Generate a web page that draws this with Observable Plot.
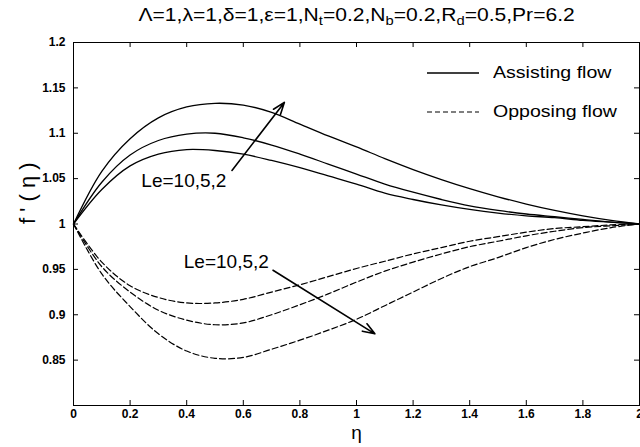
<!DOCTYPE html>
<html>
<head>
<meta charset="utf-8">
<script src="https://cdn.jsdelivr.net/npm/d3@7"></script>
<script src="https://cdn.jsdelivr.net/npm/@observablehq/plot@0.6"></script>
<style>
  html, body { margin: 0; padding: 0; background: white; }
  #wrap { position: relative; width: 640px; height: 447px; font-family: "Liberation Sans", Arial, Helvetica, sans-serif; overflow: hidden; }
  #title { position: absolute; left: 73px; width: 567px; top: 5px; text-align: center; font-size: 18px; color: #000; white-space: nowrap; transform: scaleX(1.17); transform-origin: 283px 0; }
  #title sub { font-size: 70%; vertical-align: -0.35em; line-height: 0; }
  #legend { position: absolute; left: 427px; top: 60px; font-size: 17px; color: #000; }
  .lg { display: flex; align-items: center; height: 26px; margin-bottom: 13px; }
  .lg svg { margin-right: 14px; }
  .lg span { display: inline-block; transform: scaleX(1.15); transform-origin: 0 50%; }
</style>
</head>
<body>
<div id="wrap">
  <div id="title">Λ=1,λ=1,δ=1,ε=1,N<sub>t</sub>=0.2,N<sub>b</sub>=0.2,R<sub>d</sub>=0.5,Pr=6.2</div>
  <div id="chart"></div>
  <div id="legend">
    <div class="lg"><svg width="52" height="4"><line x1="0" y1="2" x2="52" y2="2" stroke="black" stroke-width="1.4"/></svg><span>Assisting flow</span></div>
    <div class="lg"><svg width="52" height="4"><line x1="0" y1="2" x2="52" y2="2" stroke="black" stroke-width="1.1" stroke-dasharray="5,3"/></svg><span>Opposing flow</span></div>
  </div>
</div>
<script>
// η grid
const eta = [0,0.1,0.2,0.3,0.4,0.5,0.6,0.7,0.8,0.9,1.0,1.1,1.2,1.3,1.4,1.5,1.6,1.7,1.8,1.9,2.0];
// Assisting flow (solid)
const assistLe10 = [1,1.058,1.094,1.117,1.129,1.133,1.131,1.123,1.110,1.097,1.085,1.072,1.060,1.049,1.039,1.030,1.022,1.015,1.009,1.004,1.0];
const assistLe5  = [1,1.046,1.076,1.092,1.099,1.100,1.095,1.087,1.077,1.066,1.055,1.044,1.035,1.027,1.020,1.015,1.011,1.008,1.005,1.002,1.0];
const assistLe2  = [1,1.038,1.064,1.077,1.082,1.081,1.077,1.070,1.062,1.053,1.044,1.034,1.027,1.021,1.016,1.012,1.009,1.007,1.004,1.002,1.0];
// Opposing flow (dashed)
const opposeLe2  = [1,0.958,0.932,0.919,0.913,0.913,0.917,0.925,0.933,0.942,0.951,0.959,0.967,0.974,0.981,0.986,0.991,0.995,0.997,0.999,1.0];
const opposeLe5  = [1,0.953,0.925,0.905,0.894,0.889,0.891,0.900,0.911,0.923,0.936,0.948,0.958,0.967,0.975,0.981,0.987,0.992,0.996,0.998,1.0];
const opposeLe10 = [1,0.945,0.909,0.879,0.860,0.852,0.853,0.862,0.872,0.883,0.895,0.910,0.925,0.940,0.953,0.963,0.974,0.983,0.990,0.996,1.0];

const xTicks = [0,0.2,0.4,0.6,0.8,1,1.2,1.4,1.6,1.8,2];
const yTicks = [0.85,0.9,0.95,1,1.05,1.1,1.15,1.2];

// annotations (data space)
const annLabels = [
  {x: 0.39, y: 1.048, text: "Le=10,5,2"},
  {x: 0.54, y: 0.958, text: "Le=10,5,2"}
];
const annArrows = [
  {x1: 0.56, y1: 1.059, x2: 0.745, y2: 1.134},
  {x1: 0.705, y1: 0.949, x2: 1.065, y2: 0.879}
];

const series = [
  {key: "A10", flow: "assist", values: assistLe10},
  {key: "A5", flow: "assist", values: assistLe5},
  {key: "A2", flow: "assist", values: assistLe2},
  {key: "O2", flow: "oppose", values: opposeLe2},
  {key: "O5", flow: "oppose", values: opposeLe5},
  {key: "O10", flow: "oppose", values: opposeLe10}
];
const rows = series.flatMap(s => s.values.map((v, i) => ({eta: eta[i], f: v, key: s.key, flow: s.flow})));

const W = 640, H = 447, mL = 73, mR = 1, mT = 42, mB = 42;
const fw = W - mL - mR, fh = H - mT - mB, tl = 5;

const chart = Plot.plot({
  width: W, height: H,
  marginLeft: mL, marginRight: mR, marginTop: mT, marginBottom: mB,
  x: {domain: [0, 2]},
  y: {domain: [0.8, 1.2]},
  style: {fontFamily: "Liberation Sans, Arial, Helvetica, sans-serif", background: "white", color: "black"},
  marks: [
    Plot.frame({stroke: "black", strokeWidth: 1}),
    Plot.tickX(xTicks, {x: d => d, insetTop: fh - tl, stroke: "black"}),
    Plot.tickX(xTicks, {x: d => d, insetBottom: fh - tl, stroke: "black"}),
    Plot.tickY(yTicks, {y: d => d, insetRight: fw - tl, stroke: "black"}),
    Plot.tickY(yTicks, {y: d => d, insetLeft: fw - tl, stroke: "black"}),
    Plot.axisX({ticks: xTicks, tickSize: 0, tickPadding: 4, tickFormat: d => String(d), fontSize: 12, fontWeight: "bold", label: null}),
    Plot.axisY({ticks: yTicks, tickSize: 0, tickPadding: 8, tickFormat: d => String(d), fontSize: 12, fontWeight: "bold", label: null}),
    Plot.line(rows.filter(d => d.flow === "assist"), {x: "eta", y: "f", z: "key", stroke: "black", strokeWidth: 1.3, curve: "catmull-rom"}),
    Plot.line(rows.filter(d => d.flow === "oppose"), {x: "eta", y: "f", z: "key", stroke: "black", strokeWidth: 1.2, strokeDasharray: "6,3", curve: "catmull-rom"}),
    Plot.arrow(annArrows, {x1: "x1", y1: "y1", x2: "x2", y2: "y2", stroke: "black", strokeWidth: 1.6, headLength: 12, headAngle: 40}),
    Plot.text(annLabels, {x: "x", y: "y", text: "text", fontSize: 19, fill: "black"}),
    Plot.text(["η"], {frameAnchor: "bottom", dy: 33, fontSize: 19, fill: "black"}),
    Plot.text(["f ' ( η )"], {frameAnchor: "left", dx: -46, rotate: -90, fontSize: 22, fill: "black"})
  ]
});
document.getElementById("chart").appendChild(chart);
</script>
</body>
</html>
